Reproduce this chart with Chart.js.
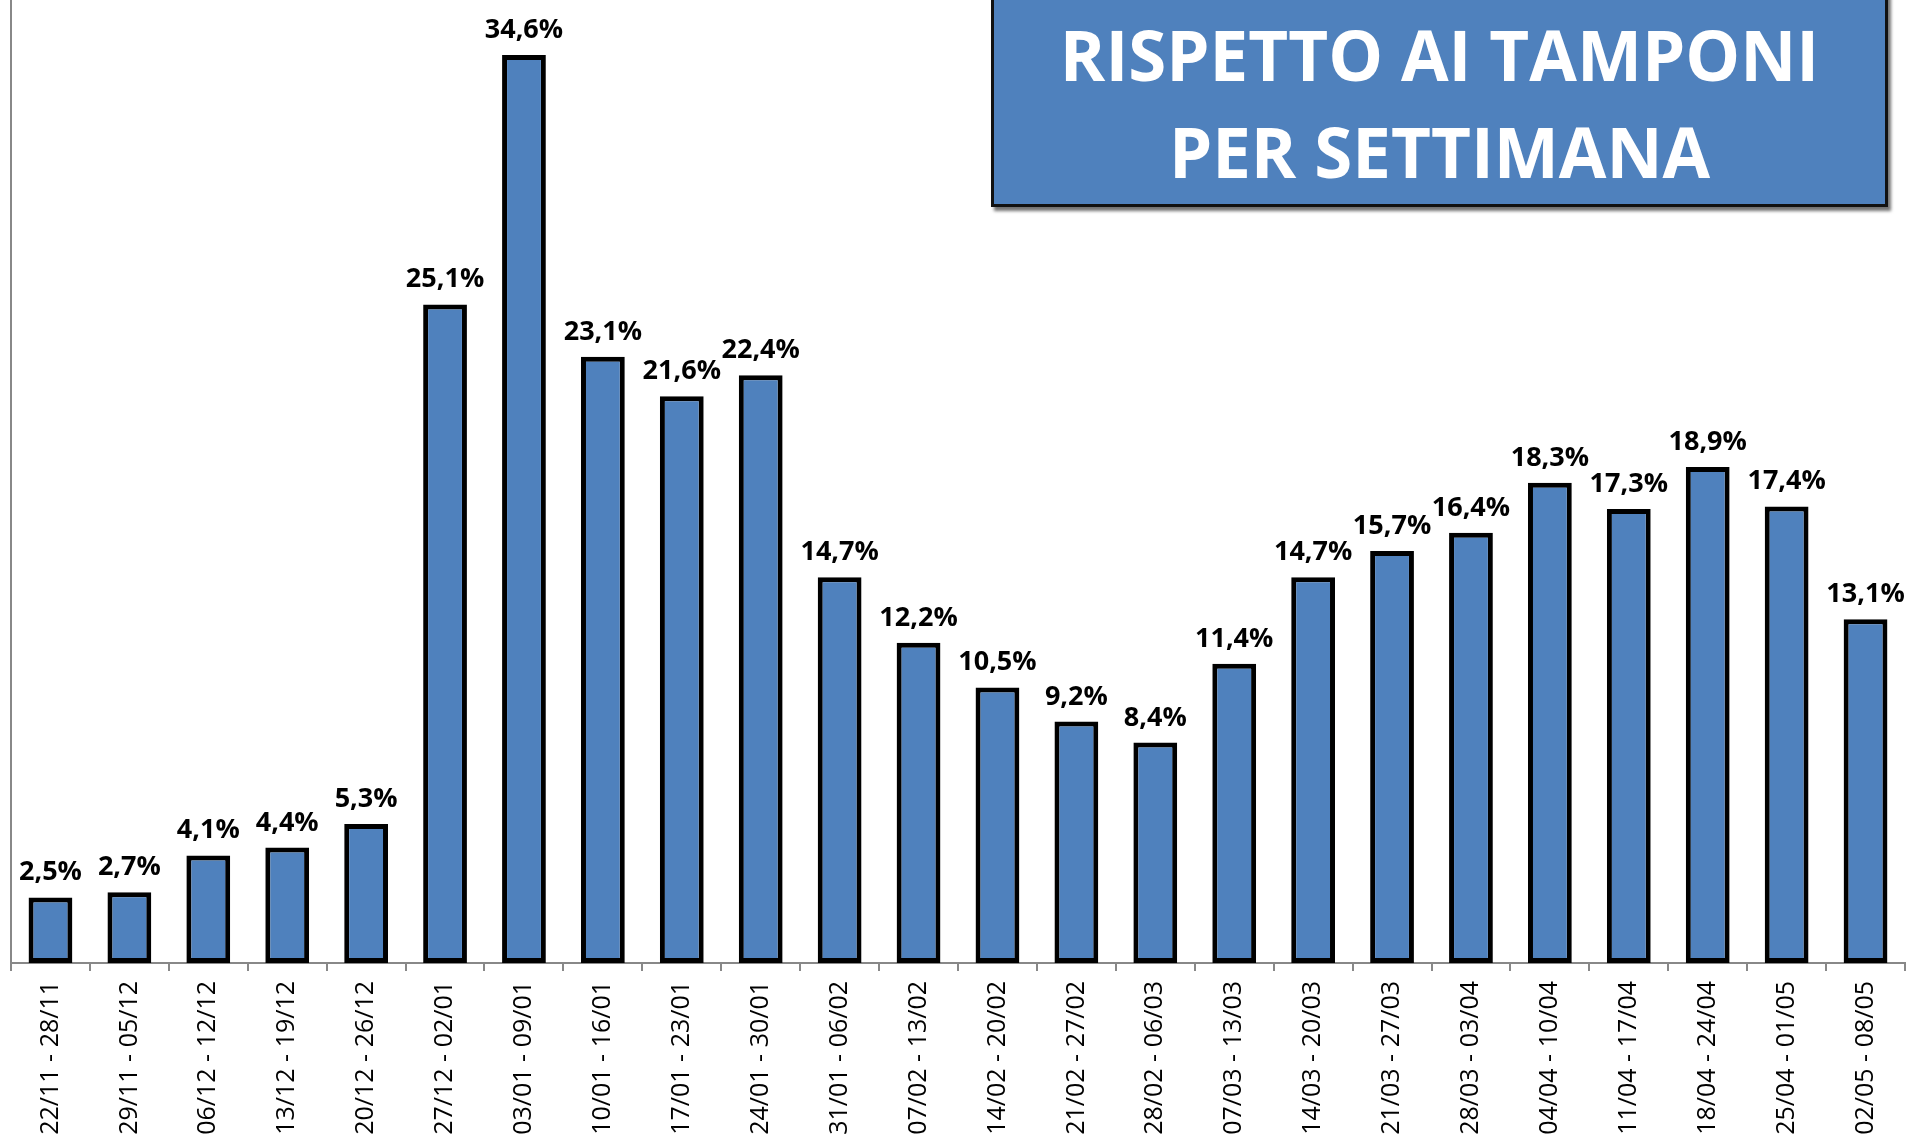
<!DOCTYPE html>
<html>
<head>
<meta charset="utf-8">
<script src="https://cdn.jsdelivr.net/npm/chart.js@4.4.0/dist/chart.umd.min.js"></script>
<style>
    html, body { margin: 0; padding: 0; background: #fff; overflow: hidden; width: 1907px; height: 1137px; }
    #wrap { position: relative; width: 1907px; height: 1137px; overflow: hidden; }
    #chart { position: absolute; left: 0; top: 0; }
    #title {
        position: absolute;
        left: 991px;
        top: -10px;
        width: 897px;
        height: 217px;
        box-sizing: border-box;
        background: #4F81BD;
        border: 3px solid #111;
        box-shadow: 3px 4px 3px rgba(0, 0, 0, 0.55);
        color: #fff;
        font-family: "Open Sans", sans-serif;
        font-weight: 700;
        font-size: 69px;
        line-height: 97px;
        text-align: center;
        padding-top: 13px;
    }
</style>
</head>
<body>
<div id="wrap">
    <canvas id="chart" width="1907" height="1160"></canvas>
    <div id="title">RISPETTO AI TAMPONI<br>PER SETTIMANA</div>
</div>
<script>
const weeks = [
    '22/11 - 28/11', '29/11 - 05/12', '06/12 - 12/12', '13/12 - 19/12', '20/12 - 26/12',
    '27/12 - 02/01', '03/01 - 09/01', '10/01 - 16/01', '17/01 - 23/01', '24/01 - 30/01',
    '31/01 - 06/02', '07/02 - 13/02', '14/02 - 20/02', '21/02 - 27/02', '28/02 - 06/03',
    '07/03 - 13/03', '14/03 - 20/03', '21/03 - 27/03', '28/03 - 03/04', '04/04 - 10/04',
    '11/04 - 17/04', '18/04 - 24/04', '25/04 - 01/05', '02/05 - 08/05'
];

const positivity = [
    2.5, 2.7, 4.1, 4.4, 5.3, 25.1, 34.6, 23.1, 21.6, 22.4,
    14.7, 12.2, 10.5, 9.2, 8.4, 11.4, 14.7, 15.7, 16.4, 18.3,
    17.3, 18.9, 17.4, 13.1
];

const formatPercent = (value) => value.toFixed(1).replace('.', ',') + '%';

// etichette sopra le barre
const valueLabels = {
    id: 'valueLabels',
    afterDatasetsDraw(chart) {
        const ctx = chart.ctx;
        const meta = chart.getDatasetMeta(0);
        ctx.save();
        ctx.font = 'bold 27px "Open Sans", sans-serif';
        ctx.fillStyle = '#000';
        ctx.textAlign = 'center';
        ctx.textBaseline = 'alphabetic';
        meta.data.forEach((bar, i) => {
            ctx.fillText(formatPercent(positivity[i]), bar.x, bar.y - 17);
        });
        ctx.restore();
    }
};

new Chart(document.getElementById('chart'), {
    type: 'bar',
    data: {
        labels: weeks,
        datasets: [{
            data: positivity,
            backgroundColor: '#4F81BD',
            borderColor: '#000',
            borderWidth: 5,
            borderSkipped: false,
            categoryPercentage: 1,
            barPercentage: 0.555
        }]
    },
    options: {
        responsive: false,
        animation: false,
        devicePixelRatio: 1,
        layout: { padding: { left: 11, right: 2, top: 0, bottom: 0 } },
        plugins: {
            legend: { display: false },
            tooltip: { enabled: false }
        },
        scales: {
            x: {
                offset: true,
                grid: {
                    offset: true,
                    drawOnChartArea: false,
                    drawTicks: true,
                    tickLength: 8,
                    color: '#888',
                    lineWidth: 2
                },
                border: { display: true, color: '#888', width: 2 },
                ticks: {
                    color: '#000',
                    font: { family: '"Open Sans", sans-serif', size: 25 },
                    minRotation: 90,
                    maxRotation: 90,
                    padding: 10,
                    autoSkip: false
                },
                afterFit(scale) { scale.height = 197; }
            },
            y: {
                min: 0,
                max: 36.7,
                grid: { display: false, drawTicks: false },
                border: { display: true, color: '#888', width: 2 },
                ticks: { display: false }
            }
        }
    },
    plugins: [valueLabels]
});
</script>
</body>
</html>
